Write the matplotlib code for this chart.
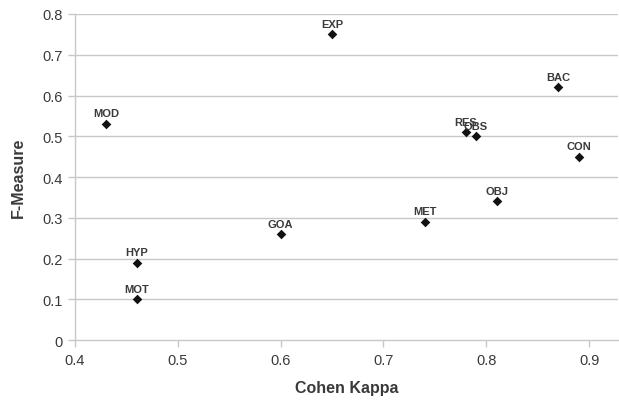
import matplotlib
matplotlib.use("Agg")
import matplotlib.pyplot as plt

labels = ["MOD", "HYP", "MOT", "GOA", "EXP", "MET", "RES", "OBS", "OBJ", "BAC", "CON"]
kappa = [0.43, 0.46, 0.46, 0.60, 0.65, 0.74, 0.78, 0.79, 0.81, 0.87, 0.89]
fmeasure = [0.53, 0.19, 0.10, 0.26, 0.75, 0.29, 0.51, 0.50, 0.34, 0.62, 0.45]
xticks = [0.4, 0.5, 0.6, 0.7, 0.8, 0.9]
yticks = [0, 0.1, 0.2, 0.3, 0.4, 0.5, 0.6, 0.7, 0.8]

plt.rcParams['font.family'] = ['Liberation Sans', 'DejaVu Sans']
fig = plt.figure(figsize=(6.19, 4.02), dpi=100)
ax = fig.add_axes([0.1212, 0.1517, 0.877, 0.811])

grid_c = "#c8c8c8"
text_c = "#3a3a3a"
for y in yticks[1:]:
    ax.axhline(y, color=grid_c, lw=1.0, zorder=0)

ax.scatter(kappa, fmeasure, marker="D", s=24, color="#111111", zorder=3, linewidths=0)
for lab, x, y in zip(labels, kappa, fmeasure):
    ax.annotate(lab, (x, y), xytext=(0, 4), textcoords="offset points",
                ha="center", va="bottom", fontsize=8, fontweight="bold", color=text_c)

ax.set_xlim(0.4, 0.928)
ax.set_ylim(0, 0.8)
ax.set_xticks(xticks)
ax.set_xticklabels([f"{v:g}" for v in xticks])
ax.set_yticks(yticks)
ax.set_yticklabels([f"{v:g}" for v in yticks])
for s in ["top", "right"]:
    ax.spines[s].set_visible(False)
for s in ["left", "bottom"]:
    ax.spines[s].set_color(grid_c)
    ax.spines[s].set_linewidth(1.0)
ax.tick_params(axis="both", colors=grid_c, labelcolor=text_c, labelsize=10.5, length=5, width=1.0, pad=4)
ax.set_xlabel("Cohen Kappa", fontsize=11.5, fontweight="bold", color=text_c, labelpad=10)
ax.set_ylabel("F-Measure", fontsize=11.5, fontweight="bold", color=text_c, labelpad=12)

fig.savefig("out.png", dpi=100)
